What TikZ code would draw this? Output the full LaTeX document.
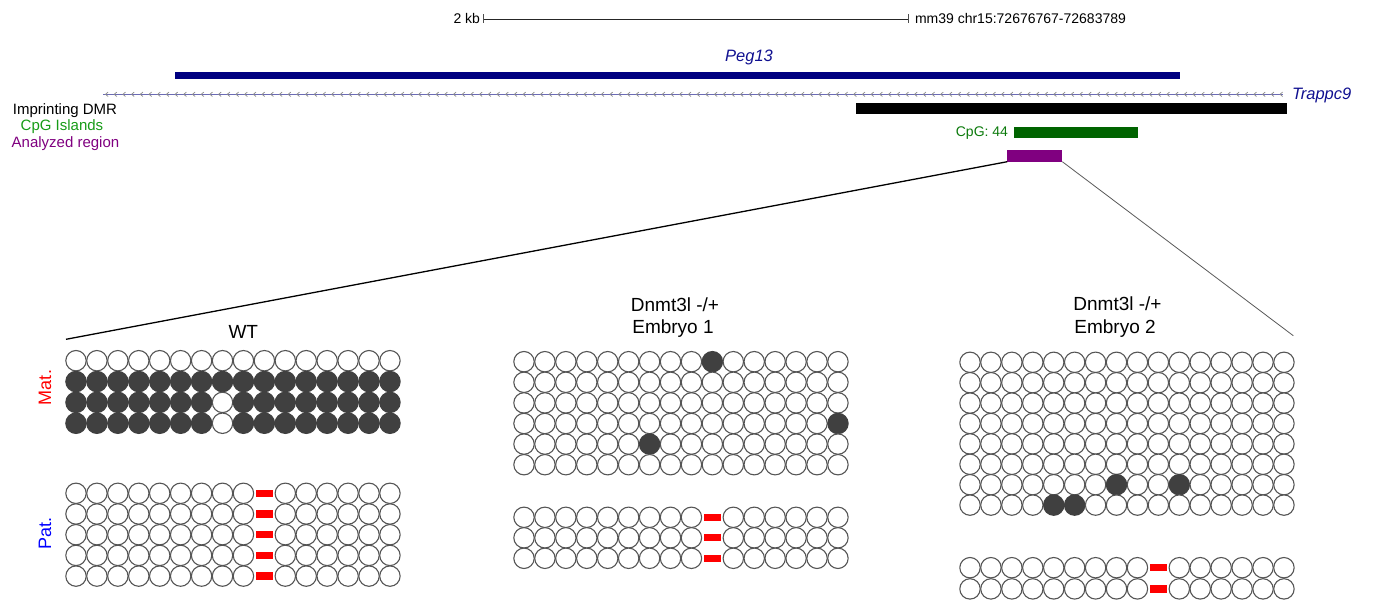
\documentclass[tikz,border=0pt]{standalone}
\usepackage{fontspec}
\setmainfont{Liberation Sans}
\definecolor{navyc}{HTML}{000080}
\definecolor{navytxt}{HTML}{101090}
\definecolor{cpgbar}{HTML}{006400}
\definecolor{cpgtxt}{HTML}{0B7A0B}
\definecolor{cpglbl}{HTML}{169B16}
\definecolor{purp}{HTML}{800080}
\definecolor{methc}{HTML}{404040}
\definecolor{circc}{HTML}{555555}
\definecolor{strandc}{HTML}{6B6BB5}
\definecolor{chevc}{HTML}{8A8A8A}
\newcommand\myfs[1]{\fontsize{#1}{#1}\selectfont}
\newcommand\cpgblock[5]{%
  \foreach \row [count=\r] in {#5} {
    \foreach \v [count=\c] in \row {
      \node[s\v] (#1-\r-\c) at ({#2+(\c-1)*20.93},{#3+(\r-1)*#4}) {};
    }
  }%
}
\tikzset{
  txt/.style={inner sep=0pt, outer sep=0pt},
  small/.style={txt, font=\myfs{14}},
  lbl/.style={txt, font=\myfs{15}},
  gene/.style={txt, font=\myfs{16.5}\itshape, text=navytxt},
  title/.style={txt, font=\myfs{19}},
  side/.style={txt, font=\myfs{18}, rotate=90},
  barbox/.style={rectangle, inner sep=0pt, outer sep=0pt, draw=none, anchor=north west},
  s0/.style={circle, draw=circc, fill=white, line width=1.1pt, minimum size=20.4pt, inner sep=0pt},
  s1/.style={circle, draw=methc, fill=methc, line width=1.1pt, minimum size=20.4pt, inner sep=0pt},
  s2/.style={rectangle, fill=red, draw=none, minimum width=17pt, minimum height=7.3pt, inner sep=0pt},
}
\begin{document}
\begin{tikzpicture}[x=1pt,y=-1pt]
\useasboundingbox (0,0) rectangle (1373,601);

% scale bar
\coordinate (sbl) at (483,19);
\coordinate (sbr) at (908,19);
\draw[line width=0.9pt, black!85] (sbl) -- (sbr);
\draw[line width=0.9pt, black!70] ([yshift=4.5pt]sbl) -- ([yshift=-4.5pt]sbl);
\draw[line width=0.9pt, black!70] ([yshift=4.5pt]sbr) -- ([yshift=-4.5pt]sbr);
\node[small, anchor=base east] (kb) at (480,23.5) {2 kb};
\node[small, anchor=base west] (pos) at (915,23.5) {mm39 chr15:72676767-72683789};

% Peg13
\node[gene, anchor=base] (peglbl) at (749,61.7) {Peg13};
\node[barbox, fill=navyc, minimum width=1005pt, minimum height=7pt] (peg) at (175,71.7) {};

% Trappc9 strand
\coordinate (tl) at (103,94.3);
\coordinate (tr) at (1283,94.3);
\draw[strandc, line width=1.1pt] (tl) -- (tr);
\foreach \i in {0,...,135} {
  \draw[chevc, line width=0.7pt] ({106.5+\i*8.7+1.6},92.1) -- ({106.5+\i*8.7-1},94.3) -- ({106.5+\i*8.7+1.6},96.5);
}
\node[gene, anchor=base west] (trlbl) at (1292,100) {Trappc9};

% tracks
\node[barbox, fill=black, minimum width=431pt, minimum height=11.6pt] (dmr) at (856,102.7) {};
\node[barbox, fill=cpgbar, minimum width=124.3pt, minimum height=11pt] (cpg) at (1014,126.7) {};
\node[small, text=cpgtxt, anchor=base east] (cpglbl) at (1008,136.7) {CpG: 44};
\node[barbox, fill=purp, minimum width=55pt, minimum height=11.7pt] (region) at (1007.3,150) {};

% left labels
\node[lbl, anchor=base] (dmrl) at (65,114.3) {Imprinting DMR};
\node[lbl, anchor=base, text=cpglbl] (cpgl) at (62,131) {CpG Islands};
\node[lbl, anchor=base, text=purp] (regl) at (65.5,147.7) {Analyzed region};

% zoom lines
\coordinate (zl) at (66,339.3);
\coordinate (zr) at (1293.3,335.7);
\draw[black, line width=1.3pt] (region.south west) -- (zl);
\draw[black!65, line width=0.8pt] (region.south east) -- (zr);

% titles
\node[title, anchor=base] (wt) at (243.3,338.3) {WT};
\node[title, anchor=base] (e1a) at (675,311.5) {Dnmt3l -/+};
\node[title, anchor=base] (e1b) at (673,333.3) {Embryo 1};
\node[title, anchor=base] (e2a) at (1117.5,310.5) {Dnmt3l -/+};
\node[title, anchor=base] (e2b) at (1115,334) {Embryo 2};

% side labels
\node[side, text=red] (mat) at (45,387.5) {Mat.};
\node[side, text=blue] (pat) at (45,533.3) {Pat.};

% WT
\cpgblock{wtm}{76}{360.7}{20.85}{
  {0,0,0,0,0,0,0,0,0,0,0,0,0,0,0,0},
  {1,1,1,1,1,1,1,1,1,1,1,1,1,1,1,1},
  {1,1,1,1,1,1,1,0,1,1,1,1,1,1,1,1},
  {1,1,1,1,1,1,1,0,1,1,1,1,1,1,1,1}}
\cpgblock{wtp}{76}{493.3}{20.7}{
  {0,0,0,0,0,0,0,0,0,2,0,0,0,0,0,0},
  {0,0,0,0,0,0,0,0,0,2,0,0,0,0,0,0},
  {0,0,0,0,0,0,0,0,0,2,0,0,0,0,0,0},
  {0,0,0,0,0,0,0,0,0,2,0,0,0,0,0,0},
  {0,0,0,0,0,0,0,0,0,2,0,0,0,0,0,0}}

% Embryo 1
\cpgblock{e1m}{524}{361.7}{20.6}{
  {0,0,0,0,0,0,0,0,0,1,0,0,0,0,0,0},
  {0,0,0,0,0,0,0,0,0,0,0,0,0,0,0,0},
  {0,0,0,0,0,0,0,0,0,0,0,0,0,0,0,0},
  {0,0,0,0,0,0,0,0,0,0,0,0,0,0,0,1},
  {0,0,0,0,0,0,1,0,0,0,0,0,0,0,0,0},
  {0,0,0,0,0,0,0,0,0,0,0,0,0,0,0,0}}
\cpgblock{e1p}{524}{517.3}{20.5}{
  {0,0,0,0,0,0,0,0,0,2,0,0,0,0,0,0},
  {0,0,0,0,0,0,0,0,0,2,0,0,0,0,0,0},
  {0,0,0,0,0,0,0,0,0,2,0,0,0,0,0,0}}

% Embryo 2
\cpgblock{e2m}{970}{362.3}{20.4}{
  {0,0,0,0,0,0,0,0,0,0,0,0,0,0,0,0},
  {0,0,0,0,0,0,0,0,0,0,0,0,0,0,0,0},
  {0,0,0,0,0,0,0,0,0,0,0,0,0,0,0,0},
  {0,0,0,0,0,0,0,0,0,0,0,0,0,0,0,0},
  {0,0,0,0,0,0,0,0,0,0,0,0,0,0,0,0},
  {0,0,0,0,0,0,0,0,0,0,0,0,0,0,0,0},
  {0,0,0,0,0,0,0,1,0,0,1,0,0,0,0,0},
  {0,0,0,0,1,1,0,0,0,0,0,0,0,0,0,0}}
\cpgblock{e2p}{970}{567.7}{21.2}{
  {0,0,0,0,0,0,0,0,0,2,0,0,0,0,0,0},
  {0,0,0,0,0,0,0,0,0,2,0,0,0,0,0,0}}
\end{tikzpicture}
\end{document}
